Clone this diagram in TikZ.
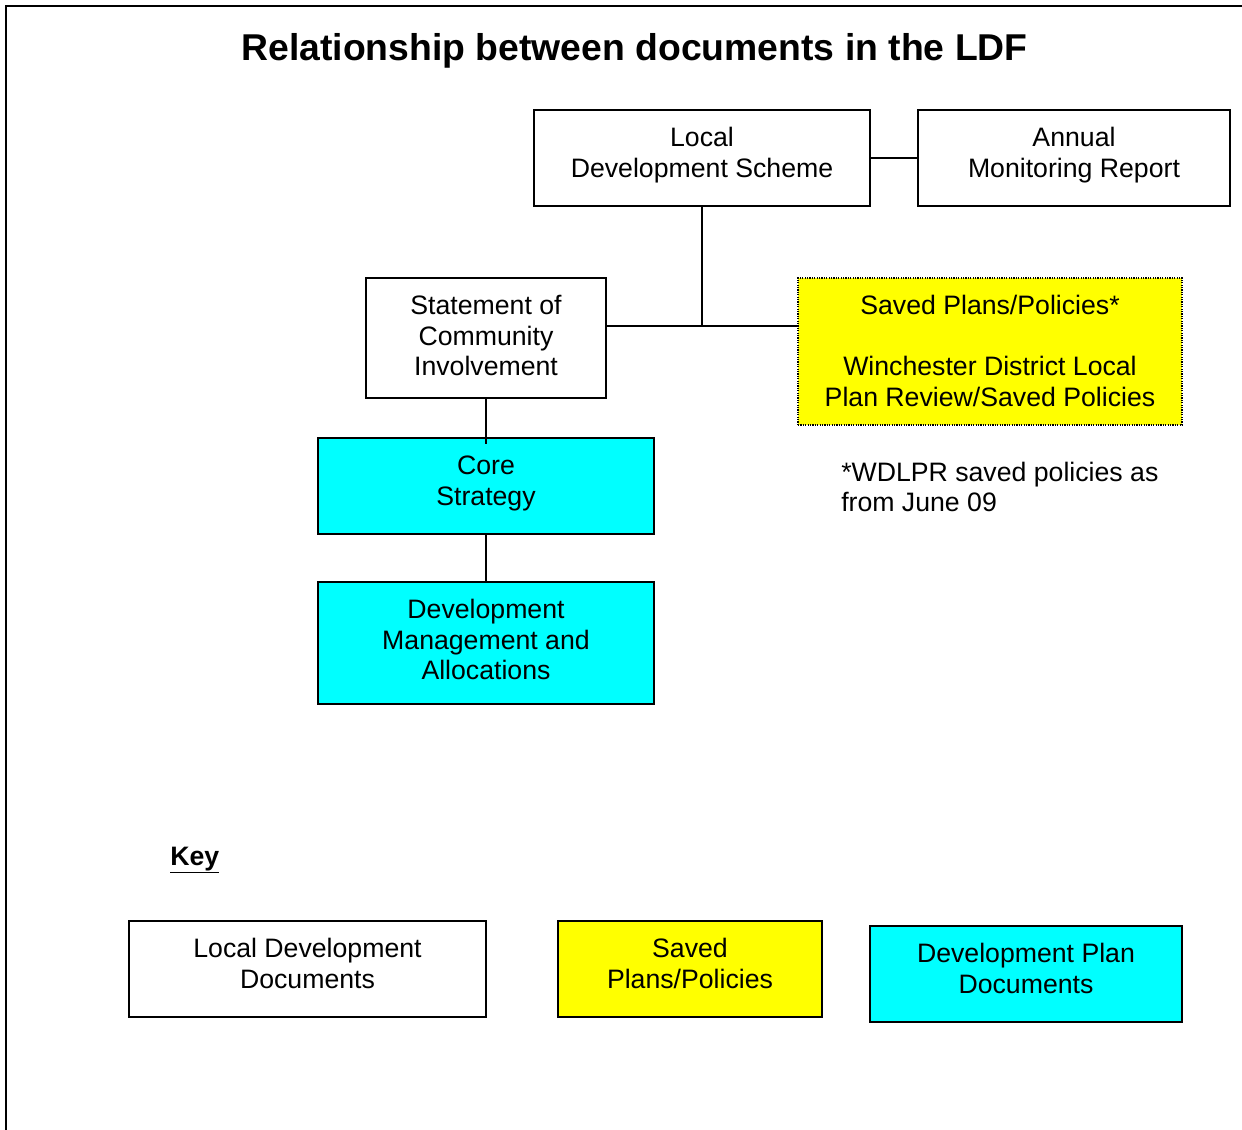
\documentclass[tikz,border=0pt]{standalone}
\usepackage{fontspec}
\setmainfont{Liberation Sans}
\definecolor{ylw}{HTML}{FFFF00}
\definecolor{cyn}{HTML}{00FFFF}
\newcommand{\bxtext}[3]{\begin{minipage}[c][#2][t]{#1}\centering
  \fontsize{20pt}{22.9pt}\selectfont\vspace*{12.4pt}\rule{0pt}{15pt}#3\end{minipage}}
\begin{document}
\begin{tikzpicture}[x=0.75pt,y=-0.75pt,
  box/.style={draw=black,line width=1.4pt,inner sep=0pt},
  ldd/.style={box,fill=white},
  spp/.style={box,fill=ylw},
  dpd/.style={box,fill=cyn},
  conn/.style={line width=1.4pt,draw=black},
  frame/.style={line width=1.6pt,draw=black}]
\useasboundingbox (0,0) rectangle (1242,1130);
\draw[frame] (6,1131) -- (6,6) -- (1243,6);
\node[font=\bfseries\fontsize{28pt}{32pt}\selectfont] (title) at (634.5,51) {Relationship between documents in the LDF};

\node[ldd] (lds) at (702,158) {\bxtext{252pt}{72pt}{Local\\Development Scheme}};
\node[ldd] (amr) at (1074,158) {\bxtext{234pt}{72pt}{Annual\\Monitoring Report}};
\node[ldd] (sci) at (486,338) {\bxtext{180pt}{90pt}{Statement of\\Community\\Involvement}};
\node[spp,dash pattern=on 0.9pt off 0.9pt,line width=1.2pt] (saved) at (990,351.5) {\bxtext{288pt}{110.25pt}{Saved Plans/Policies*\\[22.9pt]Winchester District Local\\Plan Review/Saved Policies}};
\node[dpd] (core) at (486,486) {\bxtext{252pt}{72pt}{Core\\Strategy}};
\node[dpd] (dma) at (486,643) {\bxtext{252pt}{91.5pt}{Development\\Management and\\Allocations}};

\coordinate (j) at (702,326);
\draw[conn] (lds.east) -- (amr.west);
\draw[conn] (lds.south) -- (j);
\draw[conn] (sci.east |- j) -- (saved.west |- j);
\draw[conn] (sci.south) -- ([yshift=-5pt]core.north);
\draw[conn] (core.south) -- (dma.north);

\node[anchor=west,align=left,inner sep=0pt,font=\fontsize{20pt}{22.9pt}\selectfont] (note) at (841,487) {*WDLPR saved policies as\\from June 09};

\node[anchor=west,inner sep=0pt,font=\bfseries\fontsize{20pt}{24pt}\selectfont] (key) at (170,860) {\underline{Key}};
\node[ldd] (kldd) at (307.5,969) {\bxtext{267.75pt}{72pt}{Local Development\\Documents}};
\node[spp] (kspp) at (690,969) {\bxtext{198pt}{72pt}{Saved\\Plans/Policies}};
\node[dpd] (kdpd) at (1026,974) {\bxtext{234pt}{72pt}{Development Plan\\Documents}};
\end{tikzpicture}
\end{document}
